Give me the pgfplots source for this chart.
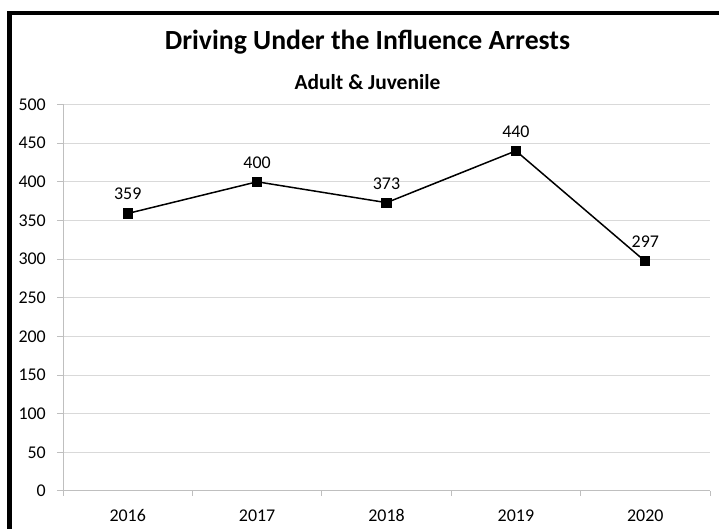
\documentclass[border=0pt]{standalone}
\usepackage{fontspec}
\setmainfont{Carlito}
\usepackage{pgfplots}
\pgfplotsset{compat=1.18}
\definecolor{gridc}{HTML}{D9D9D9}
\definecolor{axc}{HTML}{BFBFBF}
\begin{document}
\begin{tikzpicture}[x=1bp,y=1bp]
\path[use as bounding box] (0,0) rectangle (719,529);
\draw[line width=4.5bp, line join=miter] (9.5,0) -- (9.5,516) -- (719,516);
\node[anchor=base, inner sep=0pt] at (367.5,479) {\fontsize{27.8}{32}\selectfont\bfseries Driving Under the Influence Arrests};
\node[anchor=base, inner sep=0pt] at (367.5,439.2) {\fontsize{21.5}{25}\selectfont\bfseries Adult \& Juvenile};
\begin{axis}[
  at={(63bp,38bp)}, anchor=south west,
  scale only axis, width=647bp, height=386.5bp,
  xmin=-0.5, xmax=4.5, ymin=0, ymax=500,
  axis lines*=left,
  axis line style={axc, line width=1bp},
  xtick={0,1,2,3,4},
  xticklabels={2016,2017,2018,2019,2020},
  minor xtick={-0.5,0.5,1.5,2.5,3.5,4.5},
  major x tick style={draw=none},
  minor x tick style={axc, line width=1bp},
  minor tick length=5bp,
  ytick={0,50,...,500},
  major y tick style={axc, line width=1bp},
  major tick length=6bp,
  tick align=outside,
  ymajorgrids, grid style={gridc, line width=1bp},
  /pgf/number format/assume math mode=true,
  ticklabel style={font=\fontsize{18}{21}\selectfont, inner sep=0pt},
  yticklabel style={anchor=east, xshift=-11bp},
  xticklabel style={anchor=base, yshift=-25bp},
  clip=false,
]
\addplot[black, line width=1.5bp, mark=square*, mark size=4.3bp, mark options={fill=black},
  nodes near coords,
  nodes near coords style={anchor=base, inner sep=0pt, yshift=13.5bp, font=\fontsize{18}{21}\selectfont, black},
  /pgf/number format/assume math mode=true]
  coordinates {(0,359) (1,400) (2,373) (3,440) (4,297)};
\end{axis}
\end{tikzpicture}
\end{document}
